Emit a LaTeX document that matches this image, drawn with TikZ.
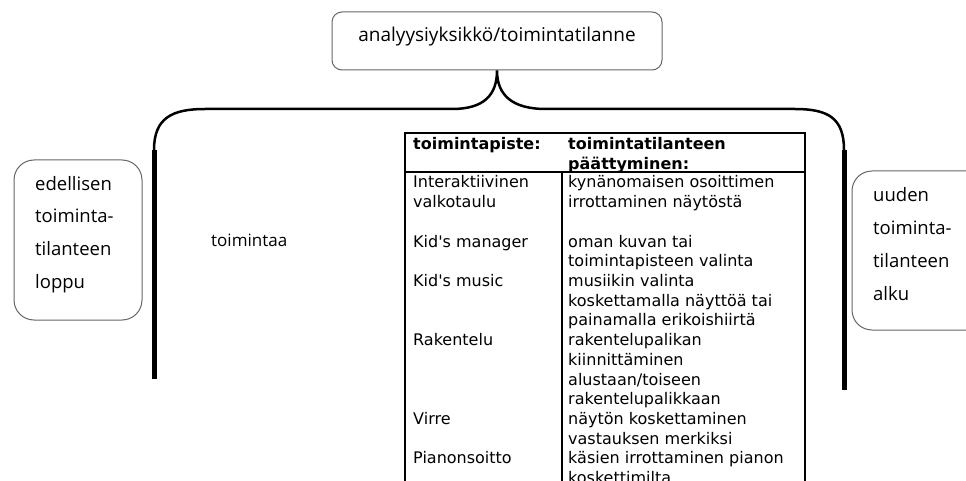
\documentclass[tikz,border=0pt]{standalone}
\usepackage{fontspec}
\setmainfont{Open Sans}
\newfontfamily\tablefont[Ligatures=TeXOff]{DejaVu Sans}

\begin{document}
\begin{tikzpicture}[x=1pt,y=-1pt,
    box/.style={draw=black!60,line width=1pt,rounded corners=20pt,inner sep=0pt},
    brace/.style={line width=2.5pt},
    bar/.style={line width=5pt},
    rule/.style={line width=1.2pt},
    label/.style={anchor=base west,inner sep=0pt,font=\fontsize{18.5}{22}\selectfont},
    cell/.style={anchor=base west,inner sep=0pt,font=\tablefont\fontsize{16}{19.5}\selectfont},
    head/.style={cell,font=\tablefont\bfseries\fontsize{16}{19.5}\selectfont}]
    \useasboundingbox (0,0) rectangle (966,481);
    \clip (0,0) rectangle (966,481);

    \node[box,rounded corners=10pt,minimum width=330pt,minimum height=58pt] (unit) at (497,41) {};
    \node[inner sep=0pt,font=\fontsize{19}{22}\selectfont] (unittext) at (497,36.5) {analyysiyksikkö/toimintatilanne};

    \node[box,minimum width=128pt,minimum height=160pt] (prevend) at (78,240) {};
    \node[box,minimum width=150pt,minimum height=159pt] (nextstart) at (927,250.5) {};
    \foreach \t [count=\i from 0] in {edellisen,toiminta-,tilanteen,loppu}
        \node[label] (prev-\i) at (35,190+32.8*\i) {\t};
    \foreach \t [count=\i from 0] in {uuden,toiminta-,tilanteen,alku}
        \node[label] (next-\i) at (873,201+33.3*\i) {\t};

    \node[label,font=\fontsize{17}{20}\selectfont] (action) at (211,246) {toimintaa};

    \coordinate (ltop) at (154,150);\coordinate (lbot) at (154,379);\coordinate (rtop) at (844,150);\coordinate (rbot) at (844,390);
    \draw[brace] (ltop) .. controls (154,118) and (172,109) .. (205,109) -- (452,109) .. controls (484,109) and (497,95) .. (unit.south) .. controls (497,95) and (512,109) .. (546,109) -- (795,109) .. controls (828,109) and (844,118) .. (rtop);
    \draw[bar] (ltop) -- (lbot);
    \draw[bar] (rtop) -- (rbot);

    \coordinate (tl) at (405,133);\coordinate (tr) at (805,133);\coordinate (hl) at (405,172);\coordinate (hr) at (805,172);\coordinate (hm) at (562,172);
    \draw[rule] (405,481) -- (tl) -- (tr) -- (805,481);
    \draw[line width=2.5pt] (hl) -- (hr);
    \draw[rule] (hm) -- (562,481);

    \node[head] (head-1) at (413,150) {toimintapiste:};
    \node[head] (head-2) at (568,150) {toimintatilanteen};
    \node[head] (head-3) at (568,169.5) {päättyminen:};

    \foreach \i/\t in {0/Interaktiivinen,1/valkotaulu,3/Kid's manager,5/Kid's music,8/Rakentelu,12/Virre,14/Pianonsoitto}
        \node[cell] (point-\i) at (413,188+19.7*\i) {\t};
    \foreach \i/\t in {0/kynänomaisen osoittimen,1/irrottaminen näytöstä,3/oman kuvan tai,4/toimintapisteen valinta,5/musiikin valinta,6/koskettamalla näyttöä tai,7/painamalla erikoishiirtä,8/rakentelupalikan,9/kiinnittäminen,10/{alustaan/toiseen},11/rakentelupalikkaan,12/näytön koskettaminen,13/vastauksen merkiksi,14/käsien irrottaminen pianon,15/koskettimilta}
        \node[cell] (end-\i) at (568,188+19.7*\i) {\t};

\end{tikzpicture}
\end{document}
